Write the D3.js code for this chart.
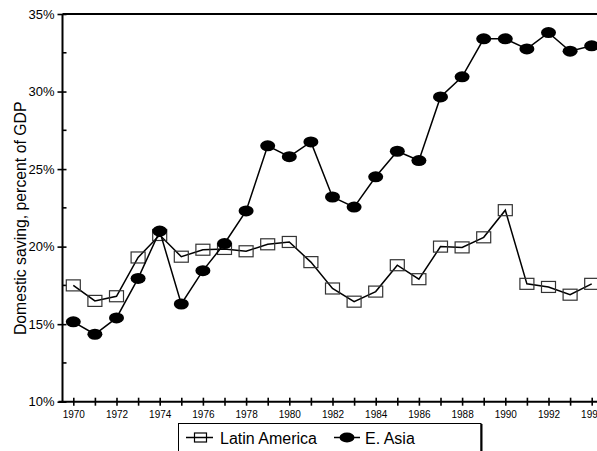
<!DOCTYPE html>
<html><head><meta charset="utf-8">
<script src="https://cdn.jsdelivr.net/npm/d3@7"></script>
<style>
html,body{margin:0;padding:0;background:#fff;overflow:hidden;}
svg{display:block;font-family:Arial,"Liberation Sans",sans-serif;}
</style></head>
<body>
<svg id="chart" width="597" height="451"></svg>
<script>
const years = [1970,1971,1972,1973,1974,1975,1976,1977,1978,1979,1980,1981,1982,1983,1984,1985,1986,1987,1988,1989,1990,1991,1992,1993,1994];
const latinAmerica = [17.5,16.5,16.8,19.3,20.75,19.35,19.8,19.85,19.7,20.15,20.3,19.0,17.3,16.45,17.1,18.8,17.9,20.0,19.95,20.6,22.35,17.6,17.4,16.9,17.6];
const eAsia = [15.15,14.35,15.4,17.95,21.0,16.3,18.45,20.2,22.3,26.5,25.8,26.75,23.2,22.55,24.5,26.15,25.55,29.65,30.95,33.4,33.4,32.75,33.8,32.6,32.95];
const yTicks = [10,15,20,25,30,35];
const yMinor = [12.5,17.5,22.5,27.5,32.5];
const xLabelYears = [1970,1972,1974,1976,1978,1980,1982,1984,1986,1988,1990,1992,1994];
const seriesNames = ["Latin America","E. Asia"];
const yTitle = "Domestic saving, percent of GDP";

const svg = d3.select("#chart");
const x = d3.scaleLinear().domain([1969.5,1994.5]).range([62.5,602.5]);
const y = d3.scaleLinear().domain([10,35]).range([401.7,14]);

// top frame line
svg.append("line").attr("x1",x(1969.5)).attr("x2",x(1994.5)).attr("y1",y(35)).attr("y2",y(35))
  .attr("stroke","#000").attr("stroke-width",2);

// x axis
const xAxis = svg.append("g").attr("transform",`translate(0,${y(10)})`)
  .call(d3.axisBottom(x).tickValues(years).tickSize(4).tickFormat(d=>xLabelYears.includes(d)?String(d):""));
xAxis.select(".domain").remove();
xAxis.append("line").attr("x1",x(1969.5)-4).attr("x2",x(1994.5)).attr("stroke","#000").attr("stroke-width",2);
xAxis.selectAll(".tick line").attr("y1",-4).attr("y2",4).attr("stroke-width",1.6);
xAxis.selectAll(".tick text").attr("y",9).attr("dy","0.71em").attr("font-size",10).attr("font-family","Arial, 'Liberation Sans'").attr("fill","#000");

// y axis
const yAxis = svg.append("g").attr("transform",`translate(${x(1969.5)},0)`)
  .call(d3.axisLeft(y).tickValues(yTicks).tickSize(5).tickFormat(d=>d+"%"));
yAxis.select(".domain").remove();
yAxis.append("line").attr("y1",y(10)).attr("y2",y(35)).attr("stroke","#000").attr("stroke-width",2);
yAxis.selectAll(".tick line").attr("x1",-5).attr("x2",4).attr("stroke-width",1.6);
yAxis.selectAll(".tick text").attr("x",-8).attr("font-size",13).attr("font-family","Arial, 'Liberation Sans'").attr("fill","#000");
yAxis.selectAll(".minor").data(yMinor).enter().append("line").attr("class","minor")
  .attr("x1",0).attr("x2",4).attr("y1",d=>y(d)).attr("y2",d=>y(d)).attr("stroke","#000").attr("stroke-width",1.6);

// y title
svg.append("text").attr("transform",`translate(26,${(y(10)+y(35))/2+10.5}) rotate(-90)`)
  .attr("text-anchor","middle").attr("font-size",15.8).text(yTitle);

const line = d3.line().x((d,i)=>x(years[i])).y(d=>y(d));
const plot = svg.append("g");
plot.append("path").datum(latinAmerica).attr("d",line).attr("fill","none").attr("stroke","#000").attr("stroke-width",1.5);
plot.selectAll(".sq").data(latinAmerica).enter().append("rect").attr("class","sq")
  .attr("x",(d,i)=>x(years[i])-7).attr("y",d=>y(d)-5.5).attr("width",14).attr("height",11)
  .attr("fill","none").attr("stroke","#333").attr("stroke-width",1.2);
plot.append("path").datum(eAsia).attr("d",line).attr("fill","none").attr("stroke","#000").attr("stroke-width",1.5);
plot.selectAll(".ci").data(eAsia).enter().append("ellipse").attr("class","ci")
  .attr("cx",(d,i)=>x(years[i])).attr("cy",d=>y(d)).attr("rx",7.5).attr("ry",5.5).attr("fill","#000");

// legend
const lg = svg.append("g");
lg.append("rect").attr("x",178.5).attr("y",423.5).attr("width",302.5).attr("height",40)
  .attr("fill","#fff").attr("stroke","#000").attr("stroke-width",1);
lg.append("line").attr("x1",481.5).attr("x2",481.5).attr("y1",424).attr("y2",464).attr("stroke","#000").attr("stroke-width",2);
lg.append("line").attr("x1",186).attr("x2",213).attr("y1",437.5).attr("y2",437.5).attr("stroke","#000").attr("stroke-width",1.5);
lg.append("rect").attr("x",194.5).attr("y",433).attr("width",12).attr("height",9).attr("fill","none").attr("stroke","#000").attr("stroke-width",1.2);
lg.append("text").attr("x",220).attr("y",443.5).attr("font-size",16).text(seriesNames[0]);
lg.append("line").attr("x1",334).attr("x2",360).attr("y1",437.5).attr("y2",437.5).attr("stroke","#000").attr("stroke-width",1.5);
lg.append("ellipse").attr("cx",347).attr("cy",437.5).attr("rx",7.5).attr("ry",5).attr("fill","#000");
lg.append("text").attr("x",365).attr("y",443.5).attr("font-size",16).text(seriesNames[1]);
</script>
</body></html>
